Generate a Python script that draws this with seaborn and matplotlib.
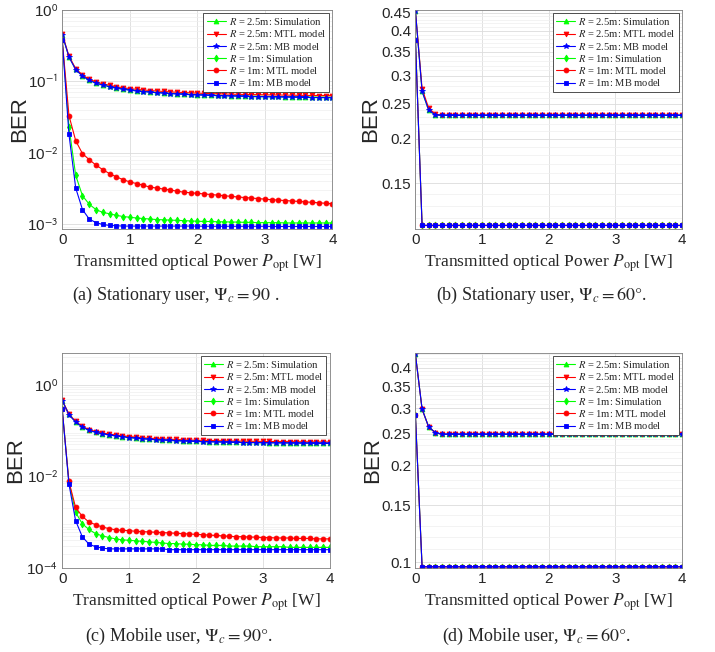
import numpy as np
import pandas as pd
import seaborn as sns
from matplotlib import pyplot as plt
from matplotlib.ticker import FixedLocator, NullFormatter

# transmitted optical power [W]
power = [0.0, 0.1, 0.2, 0.3, 0.4, 0.5, 0.6, 0.7, 0.8, 0.9, 1.0,
         1.1, 1.2, 1.3, 1.4, 1.5, 1.6, 1.7, 1.8, 1.9, 2.0,
         2.1, 2.2, 2.3, 2.4, 2.5, 2.6, 2.7, 2.8, 2.9, 3.0,
         3.1, 3.2, 3.3, 3.4, 3.5, 3.6, 3.7, 3.8, 3.9, 4.0]

# (a) stationary user, psi_c = 90
a_r25_sim = [0.45, 0.22, 0.146, 0.119, 0.104, 0.095, 0.089, 0.085, 0.081, 0.078, 0.076,
             0.074, 0.0725, 0.0712, 0.070, 0.069, 0.068, 0.0672, 0.0665, 0.0658, 0.0652,
             0.0647, 0.0642, 0.0638, 0.0634, 0.063, 0.0627, 0.0624, 0.0621, 0.0618, 0.0616,
             0.0614, 0.0612, 0.061, 0.0608, 0.0606, 0.0604, 0.0603, 0.0601, 0.06, 0.0599]
a_r25_mtl = [0.46, 0.225, 0.15, 0.122, 0.107, 0.098, 0.092, 0.088, 0.084, 0.081, 0.079,
             0.077, 0.0755, 0.0742, 0.073, 0.072, 0.071, 0.0702, 0.0695, 0.0688, 0.0682,
             0.0677, 0.0672, 0.0668, 0.0664, 0.066, 0.0657, 0.0654, 0.0651, 0.0648, 0.0646,
             0.0644, 0.0642, 0.064, 0.0638, 0.0636, 0.0634, 0.0633, 0.0631, 0.063, 0.0629]
a_r25_mb = [0.45, 0.218, 0.145, 0.118, 0.103, 0.094, 0.088, 0.084, 0.08, 0.077, 0.075,
            0.073, 0.0715, 0.0702, 0.069, 0.068, 0.067, 0.0662, 0.0655, 0.0648, 0.0642,
            0.0637, 0.0632, 0.0628, 0.0624, 0.062, 0.0617, 0.0614, 0.0611, 0.0608, 0.0606,
            0.0603, 0.0601, 0.0599, 0.0597, 0.0595, 0.0593, 0.0592, 0.059, 0.0589, 0.0588]
a_r1_sim = [0.38, 0.023, 0.0048, 0.0025, 0.0019, 0.0016, 0.00146, 0.0014, 0.00133, 0.00128, 0.00125,
            0.00122, 0.0012, 0.00118, 0.00116, 0.00115, 0.00114, 0.00113, 0.00112, 0.00111, 0.0011,
            0.00109, 0.00109, 0.00108, 0.00108, 0.00107, 0.00107, 0.00106, 0.00106, 0.00105, 0.00105,
            0.00105, 0.00105, 0.00104, 0.00104, 0.00104, 0.00104, 0.00104, 0.00104, 0.00104, 0.00104]
a_r1_mtl = [0.38, 0.033, 0.0147, 0.0097, 0.008, 0.0067, 0.0058, 0.0051, 0.0046, 0.0042, 0.0039,
            0.0037, 0.0035, 0.0033, 0.0032, 0.0031, 0.0030, 0.0029, 0.0028, 0.00275, 0.0027,
            0.00265, 0.0026, 0.00255, 0.0025, 0.00245, 0.0024, 0.00236, 0.00232, 0.00228, 0.00224,
            0.0022, 0.00217, 0.00214, 0.00211, 0.00208, 0.00205, 0.00202, 0.00199, 0.00196, 0.00193]
a_r1_mb = [0.38, 0.018, 0.0032, 0.0016, 0.00118, 0.00105, 0.00099, 0.00096, 0.00095, 0.00094, 0.00094,
           0.00094, 0.00094, 0.00094, 0.00094, 0.00094, 0.00094, 0.00094, 0.00094, 0.00094, 0.00094,
           0.000935, 0.000935, 0.000935, 0.000935, 0.000935, 0.000935, 0.000935, 0.000935, 0.000935, 0.000935,
           0.00093, 0.00093, 0.00093, 0.00093, 0.00093, 0.00093, 0.00093, 0.00093, 0.00093, 0.00093]

# (b) stationary user, psi_c = 60
b_r25_sim = [0.455, 0.271, 0.24, 0.233, 0.2322, 0.2322, 0.2322, 0.2322, 0.2322, 0.2322, 0.2322,
             0.2322, 0.2322, 0.2322, 0.2322, 0.2322, 0.2322, 0.2322, 0.2322, 0.2322, 0.2322,
             0.2322, 0.2322, 0.2322, 0.2322, 0.2322, 0.2322, 0.2322, 0.2322, 0.2322, 0.2322,
             0.2322, 0.2322, 0.2322, 0.2322, 0.2322, 0.2322, 0.2322, 0.2322, 0.2322, 0.2322]
b_r25_mtl = [0.455, 0.276, 0.243, 0.234, 0.2325, 0.2325, 0.2325, 0.2325, 0.2325, 0.2325, 0.2325,
             0.2325, 0.2325, 0.2325, 0.2325, 0.2325, 0.2325, 0.2325, 0.2325, 0.2325, 0.2325,
             0.2325, 0.2325, 0.2325, 0.2325, 0.2325, 0.2325, 0.2325, 0.2325, 0.2325, 0.2325,
             0.2325, 0.2325, 0.2325, 0.2325, 0.2325, 0.2325, 0.2325, 0.2325, 0.2325, 0.2325]
b_r1 = [0.378, 0.1145, 0.1145, 0.1145, 0.1145, 0.1145, 0.1145, 0.1145, 0.1145, 0.1145, 0.1145,
        0.1145, 0.1145, 0.1145, 0.1145, 0.1145, 0.1145, 0.1145, 0.1145, 0.1145, 0.1145,
        0.1145, 0.1145, 0.1145, 0.1145, 0.1145, 0.1145, 0.1145, 0.1145, 0.1145, 0.1145,
        0.1145, 0.1145, 0.1145, 0.1145, 0.1145, 0.1145, 0.1145, 0.1145, 0.1145, 0.1145]

# (c) mobile user, psi_c = 90
c_r25_sim = [0.45, 0.225, 0.155, 0.121, 0.102, 0.092, 0.086, 0.081, 0.077, 0.074, 0.071,
             0.0688, 0.0668, 0.0652, 0.0638, 0.0626, 0.0616, 0.0607, 0.0599, 0.0592, 0.0586,
             0.058, 0.0575, 0.0571, 0.0567, 0.0563, 0.056, 0.0557, 0.0554, 0.0551, 0.0549,
             0.0547, 0.0545, 0.0543, 0.0541, 0.0539, 0.0537, 0.0536, 0.0534, 0.0533, 0.0532]
c_r25_mtl = [0.46, 0.23, 0.158, 0.124, 0.105, 0.095, 0.089, 0.084, 0.08, 0.077, 0.074,
             0.0718, 0.0698, 0.0682, 0.0668, 0.0656, 0.0646, 0.0637, 0.0629, 0.0622, 0.0616,
             0.061, 0.0605, 0.0601, 0.0597, 0.0593, 0.059, 0.0587, 0.0584, 0.0581, 0.0579,
             0.0577, 0.0575, 0.0573, 0.0571, 0.0569, 0.0567, 0.0566, 0.0564, 0.0563, 0.0562]
c_r25_mb = [0.45, 0.222, 0.153, 0.12, 0.101, 0.091, 0.085, 0.08, 0.076, 0.073, 0.07,
            0.0678, 0.0658, 0.0642, 0.0628, 0.0616, 0.0606, 0.0597, 0.0589, 0.0582, 0.0576,
            0.057, 0.0565, 0.0561, 0.0557, 0.0553, 0.055, 0.0547, 0.0544, 0.0541, 0.0539,
            0.0537, 0.0535, 0.0533, 0.0531, 0.0529, 0.0527, 0.0526, 0.0524, 0.0523, 0.0522]
c_r1_sim = [0.29, 0.0075, 0.00164, 0.00092, 0.00069, 0.00056, 0.0005, 0.00046, 0.00043, 0.00041, 0.0004,
            0.00039, 0.00038, 0.00037, 0.00036, 0.00035, 0.00034, 0.00034, 0.00033, 0.00033, 0.00032,
            0.00032, 0.00031, 0.00031, 0.00031, 0.0003, 0.0003, 0.0003, 0.0003, 0.00029, 0.00029,
            0.00029, 0.00029, 0.00029, 0.00028, 0.00028, 0.00028, 0.00028, 0.00028, 0.00028, 0.00028]
c_r1_mtl = [0.29, 0.0078, 0.0021, 0.00134, 0.001, 0.00088, 0.00078, 0.00072, 0.00068, 0.00066, 0.00065,
            0.00063, 0.00062, 0.00061, 0.0006, 0.00059, 0.00058, 0.00057, 0.00056, 0.00055, 0.00054,
            0.00053, 0.00052, 0.00051, 0.0005, 0.00049, 0.00048, 0.00048, 0.00047, 0.00047, 0.00046,
            0.00046, 0.00045, 0.00045, 0.00045, 0.00044, 0.00044, 0.00044, 0.00043, 0.00043, 0.00043]
c_r1_mb = [0.29, 0.0069, 0.00108, 0.00048, 0.00033, 0.00029, 0.00027, 0.00026, 0.00026, 0.00026, 0.00026,
           0.00026, 0.00026, 0.00026, 0.00026, 0.00026, 0.00025, 0.00025, 0.00025, 0.00025, 0.00025,
           0.00025, 0.00025, 0.00025, 0.00025, 0.00025, 0.00025, 0.00025, 0.00025, 0.00025, 0.00025,
           0.00025, 0.00025, 0.00025, 0.00025, 0.00025, 0.00025, 0.00025, 0.00025, 0.00025, 0.00025]

# (d) mobile user, psi_c = 60
d_r25 = [0.44, 0.298, 0.262, 0.252, 0.249, 0.249, 0.249, 0.249, 0.249, 0.249, 0.249,
         0.249, 0.249, 0.249, 0.249, 0.249, 0.249, 0.249, 0.249, 0.249, 0.249,
         0.249, 0.249, 0.249, 0.249, 0.249, 0.249, 0.249, 0.249, 0.249, 0.249,
         0.249, 0.249, 0.249, 0.249, 0.249, 0.249, 0.249, 0.249, 0.249, 0.249]
d_r1 = [0.285, 0.097, 0.097, 0.097, 0.097, 0.097, 0.097, 0.097, 0.097, 0.097, 0.097,
        0.097, 0.097, 0.097, 0.097, 0.097, 0.097, 0.097, 0.097, 0.097, 0.097,
        0.097, 0.097, 0.097, 0.097, 0.097, 0.097, 0.097, 0.097, 0.097, 0.097,
        0.097, 0.097, 0.097, 0.097, 0.097, 0.097, 0.097, 0.097, 0.097, 0.097]

labels = [r'$R$ = 2.5m: Simulation', r'$R$ = 2.5m: MTL model', r'$R$ = 2.5m: MB model',
          r'$R$ = 1m: Simulation', r'$R$ = 1m: MTL model', r'$R$ = 1m: MB model']
colors = ['#00ff00', '#ff0000', '#0000ff', '#00ff00', '#ff0000', '#0000ff']
markers = ['^', 'v', '*', 'd', 'o', 's']
msizes = [3.5, 3.5, 4, 3.5, 3.5, 3]

captions = [r'(a) Stationary user, $\Psi_c = 90$ .', r'(b) Stationary user, $\Psi_c = 60°$.',
            r'(c) Mobile user, $\Psi_c = 90°$.', r'(d) Mobile user, $\Psi_c = 60°$.']

sns.set_theme(style='white')
plt.rcParams['font.family'] = ['Liberation Sans', 'DejaVu Sans']
plt.rcParams['mathtext.fontset'] = 'stix'

fig = plt.figure(figsize=(7.15, 6.52), dpi=100)
positions = [[0.087, 0.649, 0.378, 0.336], [0.581, 0.649, 0.373, 0.336],
             [0.087, 0.129, 0.374, 0.330], [0.581, 0.129, 0.373, 0.330]]
ber_x = [-0.118, -0.128, -0.134, -0.122]

panels = [
    dict(series=[a_r25_sim, a_r25_mtl, a_r25_mb, a_r1_sim, a_r1_mtl, a_r1_mb],
         ylim=(8.6e-4, 1.0), ticks=[1e-3, 1e-2, 1e-1, 1e0],
         ticklabels=[r'10$^{\mathsf{-3}}$', r'10$^{\mathsf{-2}}$', r'10$^{\mathsf{-1}}$', r'10$^{\mathsf{0}}$'],
         minor='log'),
    dict(series=[b_r25_sim, b_r25_mtl, b_r25_sim, b_r1, b_r1, b_r1],
         ylim=(0.112, 0.458), ticks=[0.15, 0.2, 0.25, 0.3, 0.35, 0.4, 0.45],
         ticklabels=['0.15', '0.2', '0.25', '0.3', '0.35', '0.4', '0.45'],
         minor=np.arange(0.11, 0.46, 0.01)),
    dict(series=[c_r25_sim, c_r25_mtl, c_r25_mb, c_r1_sim, c_r1_mtl, c_r1_mb],
         ylim=(1e-4, 5.0), ticks=[1e-4, 1e-2, 1e0],
         ticklabels=[r'10$^{\mathsf{-4}}$', r'10$^{\mathsf{-2}}$', r'10$^{\mathsf{0}}$'],
         minor='log'),
    dict(series=[d_r25, d_r25, d_r25, d_r1, d_r1, d_r1],
         ylim=(0.0962, 0.445), ticks=[0.1, 0.15, 0.2, 0.25, 0.3, 0.35, 0.4],
         ticklabels=['0.1', '0.15', '0.2', '0.25', '0.3', '0.35', '0.4'],
         minor=np.arange(0.1, 0.45, 0.01)),
]

for k, p in enumerate(panels):
    ax = fig.add_axes(positions[k])
    for y, lab, c, m, ms in zip(p['series'], labels, colors, markers, msizes):
        sns.lineplot(x=power, y=y, ax=ax, color=c, marker=m, markersize=ms,
                     markeredgecolor=c, markeredgewidth=0.6, lw=0.8, label=lab)
    ax.set_yscale('log')
    ax.set_xlim(0, 4)
    ax.set_ylim(*p['ylim'])
    ax.set_xticks([0, 1, 2, 3, 4])
    ax.set_xticklabels(['0', '1', '2', '3', '4'])
    ax.yaxis.set_major_locator(FixedLocator(p['ticks']))
    ax.set_yticklabels(p['ticklabels'])
    if isinstance(p['minor'], str):
        ax.yaxis.set_minor_locator(FixedLocator(
            [s * 10.0 ** e for e in range(-5, 1) for s in range(2, 10)]))
    else:
        ax.yaxis.set_minor_locator(FixedLocator(p['minor']))
    ax.yaxis.set_minor_formatter(NullFormatter())
    ax.grid(True, which='major', color='#dcdcdc', lw=0.6)
    ax.grid(True, which='minor', axis='y', color='#efefef', lw=0.5)
    ax.set_axisbelow(True)
    ax.tick_params(axis='both', which='major', direction='in', length=3, width=0.5,
                   labelsize=11, colors='#262626', pad=3)
    ax.tick_params(axis='y', which='minor', direction='in', length=1.5, width=0.4, colors='#777777')
    for s in ax.spines.values():
        s.set_color('#808080')
        s.set_linewidth(0.6)
    ax.set_ylabel('BER', fontsize=16, color='#262626')
    ax.yaxis.set_label_coords(ber_x[k], 0.5)
    ax.set_xlabel(r'Transmitted optical Power $P_{\rm opt}$ [W]', family='Liberation Serif',
                  fontsize=12.5, color='#262626', labelpad=4)
    leg = ax.legend(loc='upper right', prop={'family': 'Liberation Serif', 'size': 7.6},
                    frameon=True, fancybox=False, edgecolor='#333333', framealpha=1,
                    handlelength=1.8, handletextpad=0.3, labelspacing=0.12,
                    borderpad=0.3, borderaxespad=0.3)
    leg.get_frame().set_linewidth(0.6)

fig.text(0.245, 1 - 295 / 652, captions[0], family='Liberation Serif', fontsize=13, ha='center', va='center')
fig.text(0.757, 1 - 295 / 652, captions[1], family='Liberation Serif', fontsize=13, ha='center', va='center')
fig.text(0.25, 1 - 636 / 652, captions[2], family='Liberation Serif', fontsize=13, ha='center', va='center')
fig.text(0.75, 1 - 636 / 652, captions[3], family='Liberation Serif', fontsize=13, ha='center', va='center')

fig.savefig('out.png', dpi=100, facecolor='white')
